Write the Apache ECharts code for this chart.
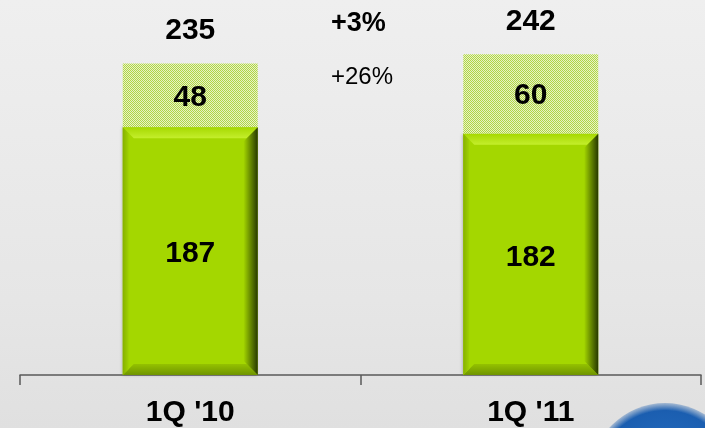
<!DOCTYPE html>
<html><head><meta charset="utf-8">
<script src="https://cdn.jsdelivr.net/npm/echarts@6/dist/echarts.min.js"></script>
<style>html,body{margin:0;padding:0;}#c{width:705px;height:428px;background:linear-gradient(#efefef,#e6e6e6 70%,#e0e0e0);}</style>
</head><body><div id="c"></div>
<script>
const categories = ["1Q '10", "1Q '11"];
const baseValues = [187, 182];
const topValues = [48, 60];
const totals = [235, 242];
const growthTotal = "+3%";
const growthTop = "+26%";

const pc = document.createElement('canvas');
pc.width = 2; pc.height = 2;
const px = pc.getContext('2d');
px.fillStyle = '#e8f2c6'; px.fillRect(0,0,2,2);
px.fillStyle = '#b0d646'; px.fillRect(0,0,1,1); px.fillRect(1,1,1,1);

const chart = echarts.init(document.getElementById('c'));
const font = '"Liberation Sans", Arial, sans-serif';
const BW = 135, BV = 11;
function lg(x, y, x2, y2, a, b) {
  return {type: 'linear', x: x, y: y, x2: x2, y2: y2, colorStops: [{offset: 0, color: a}, {offset: 1, color: b}]};
}
chart.setOption({
  backgroundColor: 'transparent',
  animation: false,
  grid: {left: 20, right: 4, top: 0, bottom: 50},
  xAxis: {
    type: 'category', data: categories,
    axisLine: {lineStyle: {color: '#5a5a5a', width: 1.5}},
    axisTick: {show: true, length: 10, lineStyle: {color: '#5a5a5a', width: 1.5}},
    axisLabel: {color: '#000', fontWeight: 'bold', fontSize: 30, fontFamily: font, margin: 23}
  },
  yAxis: {type: 'value', min: 0, max: 283, show: false, splitLine: {show: false}},
  series: [
    {
      type: 'bar', stack: 'a', data: baseValues, barWidth: BW,
      itemStyle: {color: '#a4d700', shadowColor: 'rgba(0,0,0,0.25)', shadowBlur: 3, shadowOffsetX: -1},
      label: {show: true, position: 'inside', color: '#000', fontWeight: 'bold', fontSize: 30, fontFamily: font, offset: [0, 3]}
    },
    {
      type: 'bar', stack: 'a', data: topValues, barWidth: BW,
      itemStyle: {color: {image: pc, repeat: 'repeat'}},
      label: {show: true, position: 'inside', color: '#000', fontWeight: 'bold', fontSize: 30, fontFamily: font, offset: [0, 2]}
    },
    {
      type: 'bar', stack: 'a', data: totals.map(() => 0), barWidth: BW,
      itemStyle: {color: 'transparent'},
      label: {show: true, position: 'top', distance: 18, color: '#000', fontWeight: 'bold', fontSize: 30, fontFamily: font,
        formatter: p => String(totals[p.dataIndex])}
    },
    {
      type: 'custom', z: 3, silent: true,
      data: baseValues.map((v, i) => [i, v]),
      renderItem: function (params, api) {
        const top = api.coord([api.value(0), api.value(1)]);
        const bot = api.coord([api.value(0), 0]);
        const L = top[0] - BW / 2, R = top[0] + BW / 2, T = top[1], B = bot[1], b = BV;
        return {type: 'group', children: [
          {type: 'polygon', shape: {points: [[L, T], [R, T], [R - b, T + b], [L + b, T + b]]},
            style: {fill: lg(0, 0, 0, 1, '#a6d900', '#c4ee2c')}},
          {type: 'polygon', shape: {points: [[L, B], [R, B], [R - b, B - b], [L + b, B - b]]},
            style: {fill: lg(0, 0, 0, 1, '#94c200', '#6f9400')}},
          {type: 'polygon', shape: {points: [[L, T], [L + 6, T + 6], [L + 6, B - 6], [L, B]]},
            style: {fill: lg(0, 0, 1, 0, '#86b000', '#a0d200')}},
          {type: 'polygon', shape: {points: [[R, T], [R - b - 3, T + b + 3], [R - b - 3, B - b - 3], [R, B]]},
            style: {fill: lg(0, 0, 1, 0, '#a2d400', '#263800')}}
        ]};
      }
    }
  ],
  graphic: [
    {type: 'text', x: 331, y: 24, style: {text: growthTotal, fill: '#000', font: 'bold 27px ' + font, textVerticalAlign: 'middle'}},
    {type: 'text', x: 331, y: 77, style: {text: growthTop, fill: '#000', font: '24px ' + font, textVerticalAlign: 'middle'}},
    {type: 'circle', shape: {cx: 665, cy: 478, r: 75}, z: -1,
      style: {fill: {type: 'radial', x: 0.5, y: 0.5, r: 0.5, colorStops: [{offset: 0, color: '#2a74c8'}, {offset: 0.9, color: '#1b5eb0'}, {offset: 1, color: 'rgba(27,94,176,0.3)'}]}}}
  ]
});
</script></body></html>
